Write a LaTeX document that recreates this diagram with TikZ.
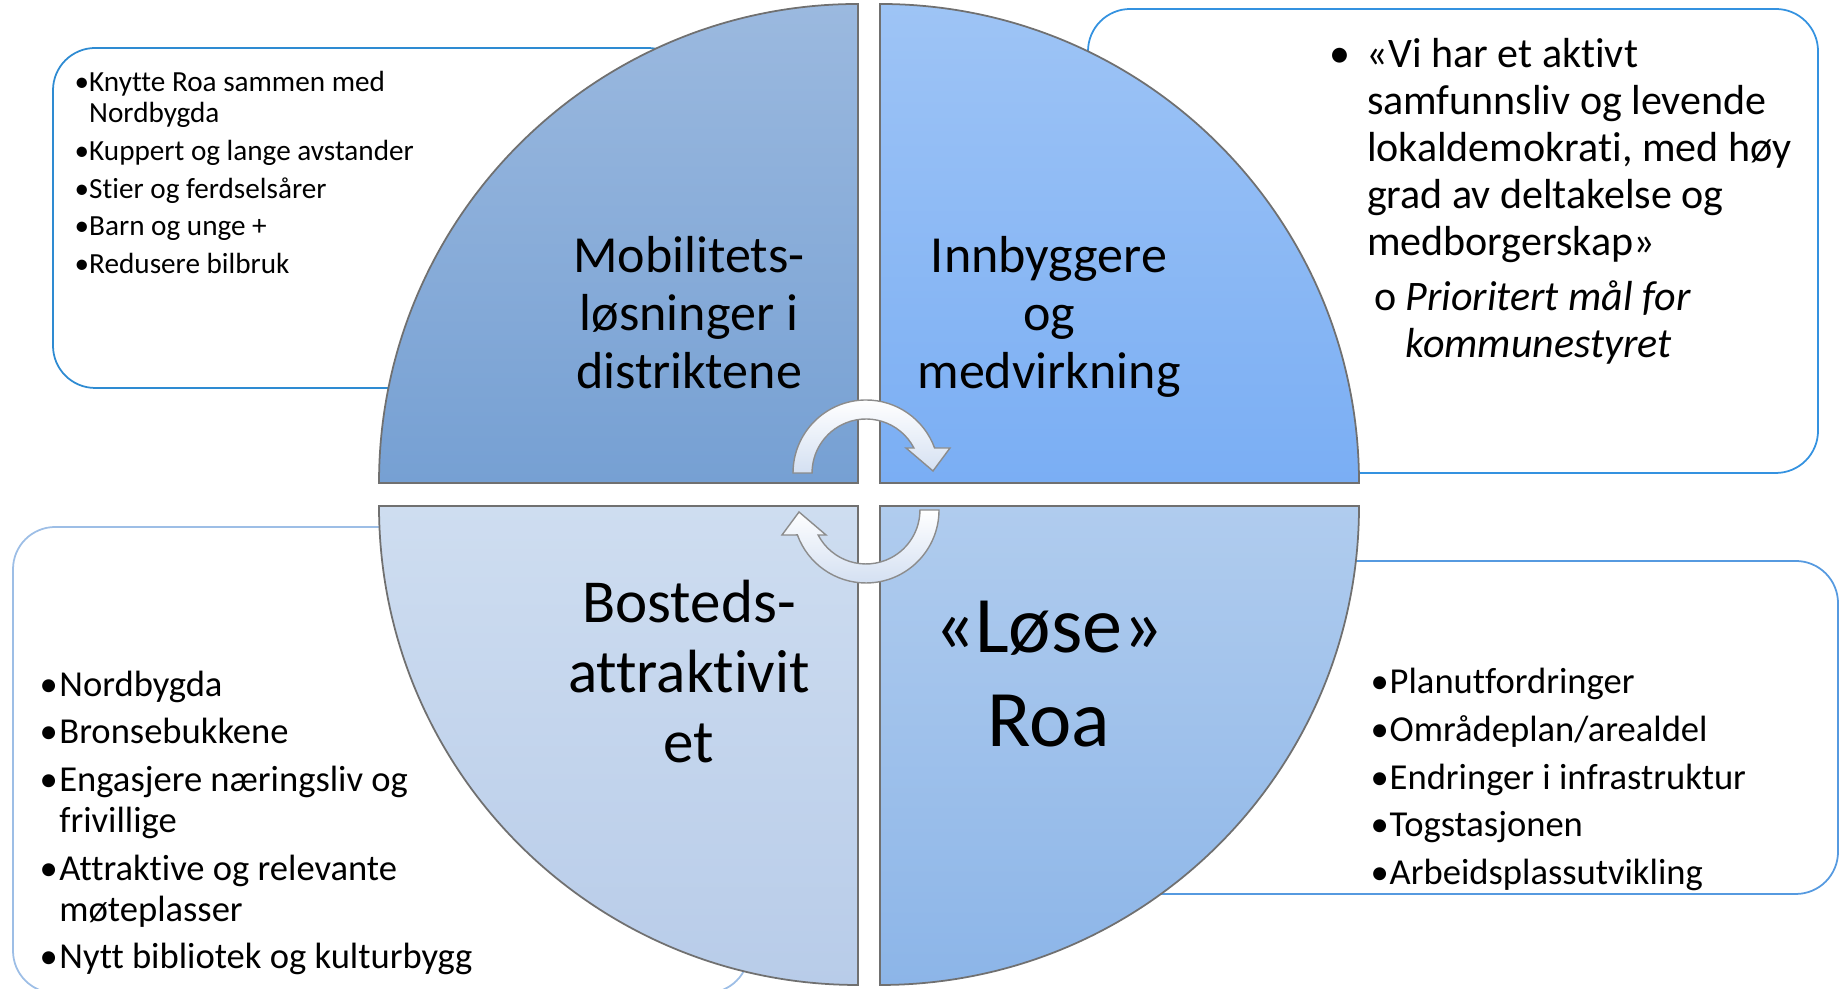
\documentclass[tikz,border=0pt]{standalone}
\usepackage{fontspec}
\setmainfont{Carlito}[Ligatures=NoCommon]
\usepackage{xcolor}
\usepackage{tikz}

\definecolor{boxTL}{RGB}{46,139,210}
\definecolor{boxTR}{RGB}{52,146,224}
\definecolor{boxBL}{RGB}{157,190,230}
\definecolor{boxBR}{RGB}{86,154,224}
\definecolor{mobTop}{RGB}{155,185,223}
\definecolor{mobBot}{RGB}{118,160,211}
\definecolor{innTop}{RGB}{158,196,245}
\definecolor{innBot}{RGB}{122,174,244}
\definecolor{bosTop}{RGB}{206,221,240}
\definecolor{bosBot}{RGB}{184,204,233}
\definecolor{losTop}{RGB}{176,204,238}
\definecolor{losBot}{RGB}{140,181,232}
\definecolor{quarterEdge}{RGB}{112,112,112}
\definecolor{turnEdge}{RGB}{140,140,140}
\definecolor{turnFill}{RGB}{212,224,242}

\tikzset{
	infobox/.style={fill=white, line width=0.5pt, rounded corners=12pt},
	quarter/.style={draw=quarterEdge, line width=0.5pt},
	turn/.style={draw=turnEdge, line width=0.4pt, top color=white, bottom color=turnFill},
	title/.style={align=center, inner sep=0pt},
	listtext/.style={align=left, inner sep=0pt, anchor=north west}
}

\begin{document}
\begin{tikzpicture}[x=0.01cm, y=0.01cm]
		%page frame
		\useasboundingbox (0,0) rectangle (1840,989);
		
		%radius of the circle
		\def\R{479}
		
		%corners of the four quarters
		\coordinate (tl corner) at (858,506);
		\coordinate (tr corner) at (880,506);
		\coordinate (bl corner) at (858,483);
		\coordinate (br corner) at (880,483);
		
		%centres of the two turning arrows
		\coordinate (top turn) at (866,516);
		\coordinate (bottom turn) at (866,479);
		
		%boxes behind the circle
		\draw [infobox, draw=boxTL] (53,601) rectangle (690,941);
		\draw [infobox, draw=boxTR] (1088,516) rectangle (1818,980);
		\draw [infobox, draw=boxBL] (13,-4) rectangle (749,462);
		\draw [infobox, draw=boxBR] (1100,95) rectangle (1838,428);
		
		%quarters
		\draw [quarter, top color=mobTop, bottom color=mobBot] (tl corner) -- ++(-\R,0) arc [start angle=180, end angle=90, radius=\R] -- cycle;
		\draw [quarter, top color=innTop, bottom color=innBot] (tr corner) -- ++(0,\R) arc [start angle=90, end angle=0, radius=\R] -- cycle;
		\draw [quarter, top color=bosTop, bottom color=bosBot] (bl corner) -- ++(0,-\R) arc [start angle=270, end angle=180, radius=\R] -- cycle;
		\draw [quarter, top color=losTop, bottom color=losBot] (br corner) -- ++(\R,0) arc [start angle=0, end angle=-90, radius=\R] -- cycle;
		
		%titles of the quarters
		\node [title, font=\fontsize{14.8}{16.5}\selectfont, anchor=north] (mobility) at (689,753) {Mobilitets-\\løsninger i\\distriktene};
		\node [title, font=\fontsize{14.8}{16.5}\selectfont, anchor=north] (citizens) at (1049,753) {Innbyggere\\og\\medvirkning};
		\node [title, font=\fontsize{17.35}{19.9}\selectfont, anchor=north] (residence) at (689,410) {Bosteds-\\attraktivit\\et};
		\node [title, font=\fontsize{22.8}{26.7}\selectfont, anchor=north] (solve) at (1049,388.5) {«Løse»\\Roa};
		
		%lists in the boxes
		\node [listtext, font=\fontsize{8.3}{8.8}\selectfont] (mobility list) at (74,918) {•Knytte Roa sammen med\\
			\phantom{•}Nordbygda\\[1.9pt]
			•Kuppert og lange avstander\\[1.9pt]
			•Stier og ferdselsårer\\[1.9pt]
			•Barn og unge +\\[1.9pt]
			•Redusere bilbruk};
		
		\node [listtext, font=\fontsize{11.95}{13.37}\selectfont] (citizens list) at (1329,951.4) {\makebox[10.6pt][l]{•}«Vi har et aktivt\\
			\hspace*{10.6pt}samfunnsliv og levende\\
			\hspace*{10.6pt}lokaldemokrati, med høy\\
			\hspace*{10.6pt}grad av deltakelse og\\
			\hspace*{10.6pt}medborgerskap»\\[2.3pt]
			\hspace*{12.7pt}\makebox[8.8pt][l]{o}\textit{Prioritert mål for}\\
			\hspace*{21.5pt}\textit{kommunestyret}};
		
		\node [listtext, font=\fontsize{10.4}{11.66}\selectfont] (residence list) at (39,318.6) {\makebox[5.6pt][l]{•}Nordbygda\\[1.85pt]
			\makebox[5.6pt][l]{•}Bronsebukkene\\[1.85pt]
			\makebox[5.6pt][l]{•}Engasjere næringsliv og\\
			\hspace*{5.6pt}frivillige\\[1.85pt]
			\makebox[5.6pt][l]{•}Attraktive og relevante\\
			\hspace*{5.6pt}møteplasser\\[1.85pt]
			\makebox[5.6pt][l]{•}Nytt bibliotek og kulturbygg};
		
		\node [listtext, font=\fontsize{10.4}{13.6}\selectfont] (solve list) at (1370,321.6) {\makebox[5.4pt][l]{•}Planutfordringer\\
			\makebox[5.4pt][l]{•}Områdeplan/arealdel\\
			\makebox[5.4pt][l]{•}Endringer i infrastruktur\\
			\makebox[5.4pt][l]{•}Togstasjonen\\
			\makebox[5.4pt][l]{•}Arbeidsplassutvikling};
		
		%turning arrows in the middle
		\def\turnarrow{(-73,0) arc [start angle=180, end angle=20, radius=73] -- (84,25) -- (67,2) -- (40,25) -- (47.9,25) arc [start angle=27.6, end angle=180, radius=54] -- cycle}
		\begin{scope}[shift={(top turn)}]
			\draw [turn] \turnarrow;
		\end{scope}
		\begin{scope}[shift={(bottom turn)}, rotate=180]
			\draw [turn] \turnarrow;
		\end{scope}
	\end{tikzpicture}
\end{document}
